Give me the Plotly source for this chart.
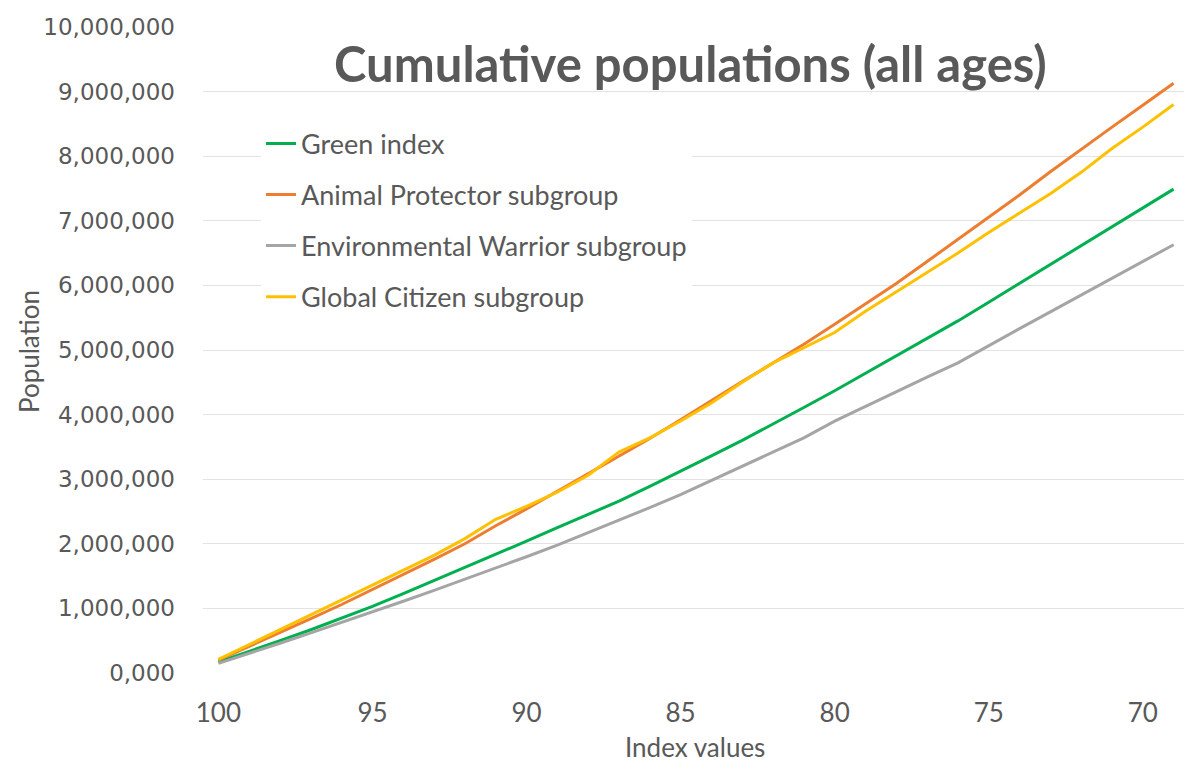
import plotly.graph_objects as go

index_values = list(range(100, 68, -1))  # 100 .. 69

green_index = [0.17, 0.33, 0.50, 0.67, 0.85, 1.03, 1.23, 1.43, 1.63, 1.83,
               2.04, 2.25, 2.45, 2.66, 2.89, 3.12, 3.36, 3.60, 3.85, 4.11,
               4.37, 4.64, 4.91, 5.18, 5.45, 5.74, 6.03, 6.32, 6.61, 6.91,
               7.20, 7.49]
animal_protector = [0.20, 0.41, 0.62, 0.84, 1.06, 1.29, 1.52, 1.76, 2.00, 2.28,
                    2.54, 2.81, 3.08, 3.36, 3.63, 3.92, 4.22, 4.51, 4.80, 5.09,
                    5.40, 5.72, 6.03, 6.37, 6.71, 7.05, 7.40, 7.76, 8.11, 8.45,
                    8.79, 9.13]
environmental_warrior = [0.15, 0.30, 0.46, 0.62, 0.78, 0.95, 1.11, 1.28, 1.45, 1.62,
                         1.80, 1.98, 2.17, 2.36, 2.56, 2.76, 2.98, 3.19, 3.41, 3.64,
                         3.90, 4.13, 4.36, 4.58, 4.80, 5.07, 5.33, 5.59, 5.85, 6.11,
                         6.37, 6.63]
global_citizen = [0.21, 0.44, 0.66, 0.89, 1.12, 1.36, 1.59, 1.82, 2.08, 2.38,
                  2.58, 2.80, 3.06, 3.42, 3.64, 3.90, 4.18, 4.50, 4.80, 5.03,
                  5.27, 5.60, 5.90, 6.21, 6.50, 6.82, 7.12, 7.42, 7.75, 8.12,
                  8.45, 8.80]

series_names = ["Green index", "Animal Protector subgroup",
                "Environmental Warrior subgroup", "Global Citizen subgroup"]
series_values = [green_index, animal_protector, environmental_warrior, global_citizen]
series_colors = ["#00B050", "#ED7D31", "#A5A5A5", "#FFC000"]

x_tick_vals = [100, 95, 90, 85, 80, 75, 70]
y_tick_vals = [i * 1_000_000 for i in range(11)]
y_tick_text = ["0,000", "1,000,000", "2,000,000", "3,000,000", "4,000,000",
               "5,000,000", "6,000,000", "7,000,000", "8,000,000", "9,000,000",
               "10,000,000"]

TXT = "#595959"
fig = go.Figure()
for i, (name, vals, col) in enumerate(zip(series_names, series_values, series_colors)):
    fig.add_trace(go.Scatter(
        x=index_values, y=[v * 1_000_000 for v in vals], mode="lines", name=name,
        legendgroup=f"g{i}",
        line=dict(color=col, width=3)))

# page has an 8px body margin; figure placed at (8, 8)
OFF = 8
W, H = 1192 - OFF, 778 - OFF
# plot area in page coordinates
PL, PR, PT, PB = 203, 1189, 26.5, 673.5
L, T = PL - OFF, PT - OFF
R, B = W - (PR - OFF), H - (PB - OFF)
pw, ph = PR - PL, PB - PT


def px(xp):
    return (xp - PL) / pw


def py(yp):
    return (PB - yp) / ph


fig.update_layout(
    width=W, height=H,
    margin=dict(l=L, r=R, t=T, b=B, pad=0),
    paper_bgcolor="white", plot_bgcolor="white",
    showlegend=True,
    legend=dict(x=px(261), y=py(119), xanchor="left", yanchor="top",
                bgcolor="white", font=dict(family="Lato", size=27, color=TXT),
                tracegroupgap=13, traceorder="grouped"),
    xaxis=dict(range=[100.5, 68.5], tickvals=x_tick_vals, showgrid=False,
               zeroline=False, showline=False, ticks="",
               tickfont=dict(family="Lato", size=26, color=TXT),
               ticklabelstandoff=22),
    yaxis=dict(range=[0, 10_000_000], tickvals=y_tick_vals, ticktext=y_tick_text,
               showgrid=True, gridcolor="#E3E3E3", gridwidth=1.3, zeroline=False,
               showline=False, ticks="",
               tickfont=dict(family="DejaVu Sans", size=23, color=TXT),
               ticklabelstandoff=27),
    annotations=[
        dict(text="<b>Cumulative populations (all ages)</b>", x=px(690), y=py(63),
             xref="paper", yref="paper", showarrow=False, xanchor="center",
             yanchor="middle", font=dict(family="Lato", size=49, color=TXT)),
        dict(text="Population", x=px(29), y=py(352), xref="paper", yref="paper",
             showarrow=False, textangle=-90, xanchor="center", yanchor="middle",
             font=dict(family="Lato", size=26, color=TXT)),
        dict(text="Index values", x=px(695), y=py(748), xref="paper", yref="paper",
             showarrow=False, xanchor="center", yanchor="middle",
             font=dict(family="Lato", size=26, color=TXT)),
    ],
    shapes=[dict(type="rect", xref="paper", yref="paper",
                 x0=px(5), x1=px(1194), y0=py(5), y1=py(780),
                 line=dict(color="#D9D9D9", width=1), fillcolor="rgba(0,0,0,0)",
                 layer="below")],
)

fig.write_html("out.html")
